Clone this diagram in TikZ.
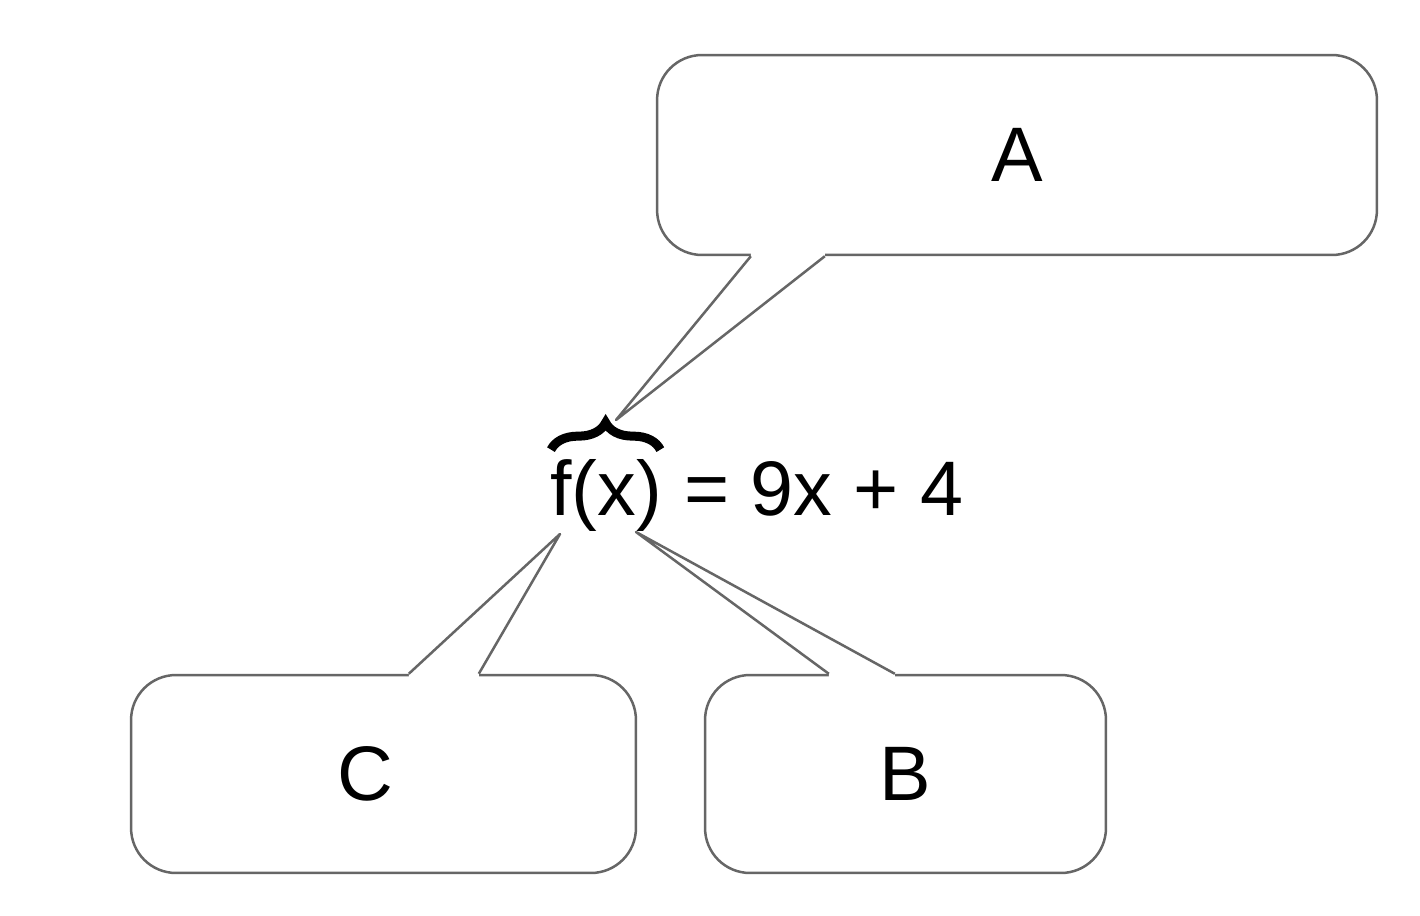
\documentclass[tikz,border=0pt]{standalone}
\usepackage{fontspec}
\setmainfont{Liberation Sans}
\usetikzlibrary{calc,decorations.pathreplacing}

\begin{document}
\begin{tikzpicture}[x=0.02cm,y=0.02cm,
  bubble/.style={rectangle,draw=black!60,line width=0.05cm,rounded corners=0.9cm,
    inner sep=0,minimum height=3.96cm,font=\fontsize{44}{52}\selectfont},
  pointer/.style={draw=black!60,line width=0.05cm,line join=round},
  eq node/.style={inner sep=0,font=\fontsize{44}{52}\selectfont}]

  \fill[white] (0,0) rectangle (1420,-916);

  \node[bubble,minimum width=14.4cm,minimum height=4cm] (boxA) at (1017,-155) {A};
  \node[bubble,minimum width=10.1cm] (boxC) at (383.5,-774) {\hspace*{-0.72cm}C};
  \node[bubble,minimum width=8.02cm] (boxB) at (905.5,-774) {B};

  \node[eq node,anchor=base west] (fx) at (550,-515) {f(x)};
  \node[eq node,anchor=base west] (rhs) at (fx.base east) {\ = 9x + 4};

  \coordinate (tipA) at (616,-420);
  \coordinate (tipC) at (560,-534);
  \coordinate (tipB) at (636,-532);

  % callout pointers
  \fill[white] ($(boxA.south west)+(95,0)$) -- (tipA) -- ($(boxA.south west)+(169,0)$)
     -- ($(boxA.south west)+(169,4)$) -- ($(boxA.south west)+(95,4)$) -- cycle;
  \path[pointer] ($(boxA.south west)+(95,0)$) -- (tipA) -- ($(boxA.south west)+(169,0)$);

  \fill[white] ($(boxC.north west)+(279,0)$) -- (tipC) -- ($(boxC.north west)+(349,0)$)
     -- ($(boxC.north west)+(349,-4)$) -- ($(boxC.north west)+(279,-4)$) -- cycle;
  \path[pointer] ($(boxC.north west)+(279,0)$) -- (tipC) -- ($(boxC.north west)+(349,0)$);

  \fill[white] ($(boxB.north west)+(125,0)$) -- (tipB) -- ($(boxB.north west)+(191,0)$)
     -- ($(boxB.north west)+(191,-4)$) -- ($(boxB.north west)+(125,-4)$) -- cycle;
  \path[pointer] ($(boxB.north west)+(125,0)$) -- (tipB) -- ($(boxB.north west)+(191,0)$);

  % brace over f(x)
  \draw[line width=0.18cm,decorate,decoration={brace,amplitude=0.54cm}]
    ($(fx.north west)+(1,9)$) -- ($(fx.north east)+(-2,9)$);
\end{tikzpicture}
\end{document}
